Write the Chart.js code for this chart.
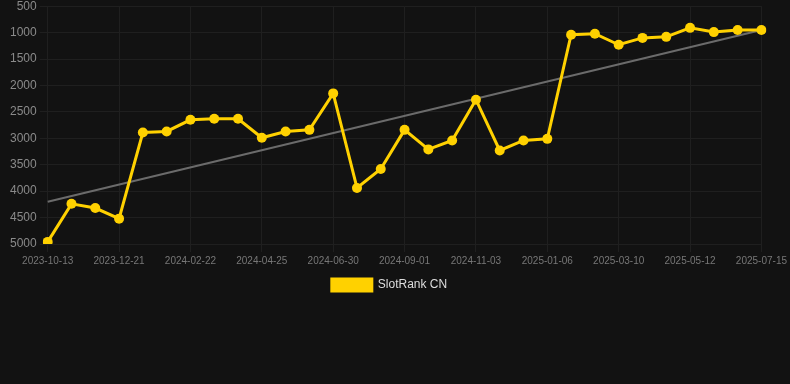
<!DOCTYPE html>
<html>
<head>
<meta charset="utf-8">
<script src="https://cdn.jsdelivr.net/npm/chart.js@4.4.1/dist/chart.umd.min.js"></script>
<style>
  html, body { margin: 0; padding: 0; background: #121212; overflow: hidden; }
  #wrap { width: 790px; height: 305px; position: relative; top: -4px; }
</style>
</head>
<body>
<div id="wrap"><canvas id="chart"></canvas></div>
<script>
const dates = [
  "2023-10-13", "2023-11-05", "2023-11-28",
  "2023-12-21", "2024-01-11", "2024-02-01",
  "2024-02-22", "2024-03-12", "2024-04-04",
  "2024-04-25", "2024-05-17", "2024-06-08",
  "2024-06-30", "2024-07-21", "2024-08-11",
  "2024-09-01", "2024-09-22", "2024-10-13",
  "2024-11-03", "2024-11-24", "2024-12-16",
  "2025-01-06", "2025-01-27", "2025-02-17",
  "2025-03-10", "2025-03-31", "2025-04-21",
  "2025-05-12", "2025-06-02", "2025-06-23",
  "2025-07-15"
];

const slotRank = [
  4960, 4240, 4320, 4520, 2890, 2870, 2650, 2630, 2630, 2990,
  2870, 2840, 2150, 3940, 3580, 2840, 3210, 3040, 2270, 3230,
  3040, 3010, 1040, 1020, 1230, 1100, 1080, 910, 990, 950, 950
];

// trend line end values (first and last date)
const trendEnds = [4200, 950];

const yTicks = [500, 1000, 1500, 2000, 2500, 3000, 3500, 4000, 4500, 5000];

const ctx = document.getElementById("chart");

new Chart(ctx, {
  type: "line",
  data: {
    labels: dates,
    datasets: [
      {
        label: "SlotRank CN",
        data: slotRank,
        borderColor: "#FFD100",
        backgroundColor: "#FFD100",
        borderWidth: 3,
        pointRadius: 5,
        pointHoverRadius: 5,
        pointBackgroundColor: "#FFD100",
        pointBorderWidth: 0,
        tension: 0,
        order: 1,
      },
      {
        label: "trend",
        data: [
          { x: dates[0], y: trendEnds[0] },
          { x: dates[dates.length - 1], y: trendEnds[1] },
        ],
        borderColor: "#6b6b6b",
        backgroundColor: "#6b6b6b",
        borderWidth: 2,
        pointRadius: 0,
        tension: 0,
        order: 2,
      },
    ],
  },
  options: {
    responsive: true,
    maintainAspectRatio: false,
    animation: false,
    layout: { padding: { left: 7, right: 18 } },
    scales: {
      x: {
        ticks: {
          color: "#777",
          font: { family: "Liberation Sans, Arial, sans-serif", size: 10 },
          maxRotation: 0,
          autoSkip: true,
          maxTicksLimit: 11,
        },
        grid: { color: "#1f1f1f", tickColor: "#1f1f1f" },
        border: { display: false },
      },
      y: {
        reverse: true,
        min: 500,
        max: 5000,
        afterBuildTicks: (axis) => {
          axis.ticks = yTicks.map((v) => ({ value: v }));
        },
        ticks: {
          color: "#8a8a8a",
          font: { family: "Liberation Sans, Arial, sans-serif", size: 12 },
          callback: (v) => String(v),
        },
        grid: { color: "#1f1f1f", tickColor: "#1f1f1f" },
        border: { display: false },
      },
    },
    plugins: {
      legend: {
        position: "bottom",
        labels: {
          color: "#ddd",
          boxWidth: 40,
          boxHeight: 12,
          padding: 9,
          font: { family: "Liberation Sans, Arial, sans-serif", size: 12 },
          filter: (item) => item.text !== "trend",
        },
      },
      tooltip: { enabled: false },
    },
  },
});
</script>
</body>
</html>
